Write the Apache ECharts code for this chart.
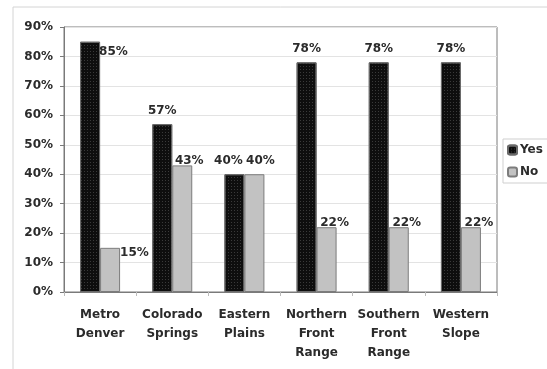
<!DOCTYPE html>
<html>
<head>
<meta charset="utf-8">
<script src="https://cdn.jsdelivr.net/npm/echarts@6/dist/echarts.min.js"></script>
<style>
  html, body { margin: 0; padding: 0; background: #fff; }
  #main { width: 547px; height: 369px; }
</style>
</head>
<body>
<div id="main"></div>
<script>
  // data
  const regions = ['Metro Denver', 'Colorado Springs', 'Eastern Plains', 'Northern Front Range', 'Southern Front Range', 'Western Slope']
  const yesValues = [85, 57, 40, 78, 78, 78]
  const noValues = [15, 43, 40, 22, 22, 22]
  const yTicks = [0, 10, 20, 30, 40, 50, 60, 70, 80, 90]

  const font = 'DejaVu Sans'
  const textColor = '#2b2b2b'

  // per-bar label tweaks (Excel put some of the labels off to the side)
  const yesLabel = {
    0: { position: ['95%', 4], align: 'left', verticalAlign: 'top' },
    2: { offset: [-6, 0] }
  }
  const noLabel = {
    0: { position: ['100%', -1], align: 'left', verticalAlign: 'top' },
    1: { offset: [7, 0], distance: -1.5 },
    2: { offset: [6, 0] },
    3: { offset: [8, 0], distance: -1.5 },
    4: { offset: [8, 0], distance: -1.5 },
    5: { offset: [8, 0], distance: -1.5 }
  }

  const myChart = echarts.init(document.getElementById('main'))

  const labelBase = {
    show: true,
    position: 'top',
    distance: 7,
    formatter: '{c}%',
    fontFamily: font,
    fontWeight: 'bold',
    fontSize: 12,
    color: textColor
  }

  const option = {
    animation: false,
    graphic: [
      {
        type: 'rect',
        shape: { x: 13, y: 7, width: 700, height: 500 },
        style: { fill: 'none', stroke: '#d4d4d4', lineWidth: 1 },
        z: -1
      }
    ],
    legend: {
      orient: 'vertical',
      left: 503,
      top: 139,
      data: ['Yes', 'No'],
      itemWidth: 9,
      itemHeight: 9,
      itemGap: 10,
      padding: [5, 6, 5, 4],
      borderColor: '#cfcfcf',
      borderWidth: 1,
      textStyle: { fontFamily: font, fontWeight: 'bold', fontSize: 12, color: textColor, padding: [0, 0, 0, -2] }
    },
    grid: {
      left: 64,
      right: 50,
      top: 27,
      bottom: 77,
      show: true,
      borderColor: '#7a7a7a',
      borderWidth: 1
    },
    xAxis: {
      type: 'category',
      data: regions,
      axisLine: { lineStyle: { color: '#7a7a7a' } },
      axisTick: { show: true, length: 4, lineStyle: { color: '#bbb' } },
      axisLabel: {
        margin: 13,
        interval: 0,
        lineHeight: 19,
        fontFamily: font,
        fontWeight: 'bold',
        fontSize: 12,
        color: textColor,
        formatter: function (v) { return v.split(' ').join('\n') }
      }
    },
    yAxis: {
      type: 'value',
      min: yTicks[0],
      max: yTicks[yTicks.length - 1],
      interval: 10,
      axisLine: { show: true, lineStyle: { color: '#7a7a7a' } },
      axisTick: { show: true, length: 4, lineStyle: { color: '#7a7a7a' } },
      splitLine: { lineStyle: { color: '#e3e3e3' } },
      axisLabel: {
        margin: 11,
        fontFamily: font,
        fontWeight: 'bold',
        fontSize: 12,
        color: textColor,
        formatter: '{value}%'
      }
    },
    series: [
      {
        name: 'Yes',
        type: 'bar',
        barWidth: 20,
        barGap: '0%',
        itemStyle: {
          color: '#0e0e0e',
          borderColor: '#6a6a6a',
          borderWidth: 1,
          decal: {
            symbol: 'rect',
            symbolSize: 1,
            color: 'rgba(70,70,70,0.8)',
            dashArrayX: [1, 2],
            dashArrayY: [1, 2],
            rotation: 0
          }
        },
        label: labelBase,
        data: yesValues.map((v, i) => ({ value: v, label: yesLabel[i] || {} }))
      },
      {
        name: 'No',
        type: 'bar',
        barWidth: 20,
        barGap: '0%',
        itemStyle: {
          color: '#c2c2c2',
          borderColor: '#7c7c7c',
          borderWidth: 1
        },
        label: labelBase,
        data: noValues.map((v, i) => ({ value: v, label: noLabel[i] || {} }))
      }
    ]
  }

  myChart.setOption(option)
</script>
</body>
</html>
